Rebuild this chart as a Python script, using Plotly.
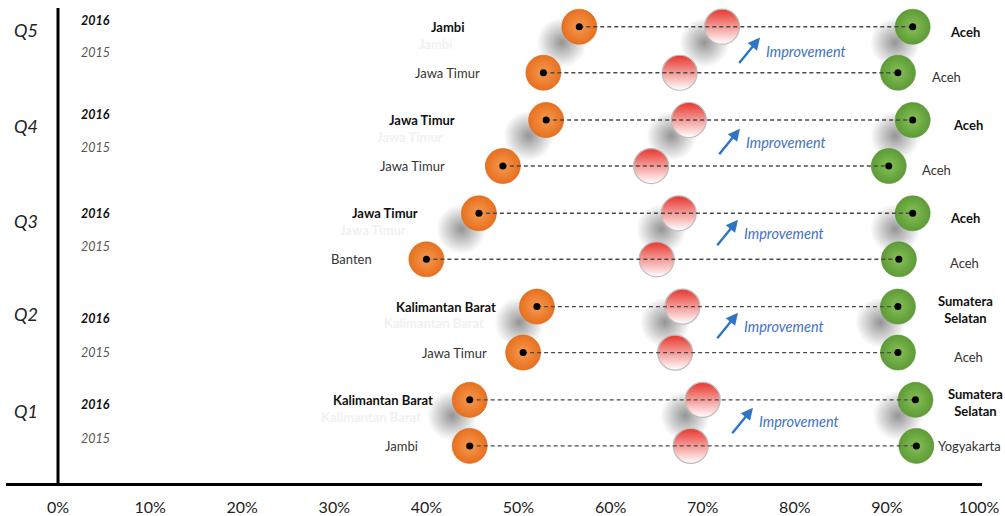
import plotly.graph_objects as go

# ---------------- data ----------------
quarters = ["Q5", "Q4", "Q3", "Q2", "Q1"]
min_2016 = [56.6, 53.0, 45.7, 52.0, 44.7]
avg_2016 = [72.1, 68.5, 67.4, 67.8, 70.0]
max_2016 = [92.8, 92.8, 92.8, 91.2, 93.1]
min_2015 = [52.7, 48.3, 40.0, 50.5, 44.7]
avg_2015 = [67.5, 64.4, 65.0, 67.0, 68.7]
max_2015 = [91.2, 90.2, 91.3, 91.2, 93.2]
min_prov_2016 = ["Jambi", "Jawa Timur", "Jawa Timur", "Kalimantan Barat", "Kalimantan Barat"]
min_prov_2015 = ["Jawa Timur", "Jawa Timur", "Banten", "Jawa Timur", "Jambi"]
max_prov_2016 = ["Aceh", "Aceh", "Aceh", "Sumatera<br>Selatan", "Sumatera<br>Selatan"]
max_prov_2015 = ["Aceh", "Aceh", "Aceh", "Aceh", "Yogyakarta"]
x_ticks = [0, 10, 20, 30, 40, 50, 60, 70, 80, 90, 100]
x_ticklabels = ["0%", "10%", "20%", "30%", "40%", "50%", "60%", "70%", "80%", "90%", "100%"]
year_labels = ["2016", "2015"]
improvement_label = "Improvement"

# ---------------- layout helpers ----------------
FONT = "Lato"
X0_PX, PX_PER_UNIT = 58.0, 9.21


def px2x(p):
    return (p - X0_PX) / PX_PER_UNIT


# vertical row positions (plot y units == screen pixels)
row_2016 = [27 + 94.25 * k for k in range(5)]
row_2015 = [y + 46.5 for y in row_2016]
q_label_y = [30, 127, 223, 317, 415]
yr16_y = [21, 116, 216, 322, 409]
yr15_y = [53, 149, 249, 356, 443]
left_off_2016 = [112, 89, 59, 39, 35]
left_off_2015 = [61, 56, 52, 34, 50]
right_off_2016 = [35, 38, 35, 68, 60]
right_off_2015 = [32, 31, 49, 54, 20]
imp_head_px = [(760, 38), (740, 130), (738, 222), (738, 316), (753, 412)]

ORANGE_C, ORANGE_E = "#F59A50", "#E8701F"
GREEN_C, GREEN_E = "#86C057", "#5E9B36"
RED = "#E8362E"
BLUE = "#2E75C6"

fig = go.Figure()

all_min = min_2016 + min_2015
all_avg = avg_2016 + avg_2015
all_max = max_2016 + max_2015
all_y = row_2016 + row_2015

# soft shadows for the 2016 rows (radial: gradient colour = centre)
sx, sy = [], []
for k in range(5):
    for v in (min_2016[k], avg_2016[k], max_2016[k]):
        sx.append(v - 1.9)
        sy.append(row_2016[k] + 16)
fig.add_trace(go.Scatter(
    x=sx, y=sy, mode="markers", hoverinfo="skip",
    marker=dict(size=50, color="rgba(0,0,0,0)", line=dict(width=0),
                gradient=dict(type="radial", color="rgba(0,0,0,0.42)"))))

# average (red/white) circles
fig.add_trace(go.Scatter(
    x=all_avg, y=all_y, mode="markers", hoverinfo="skip",
    marker=dict(size=35, color=RED, line=dict(width=1.2, color="#BDBDBD"),
                gradient=dict(type="vertical", color="#FFFFFF"))))
# minimum (orange)
fig.add_trace(go.Scatter(
    x=all_min, y=all_y, mode="markers", hoverinfo="skip",
    marker=dict(size=35, color=ORANGE_E, line=dict(width=0.6, color="#D8651A"),
                gradient=dict(type="radial", color=ORANGE_C))))
# maximum (green)
fig.add_trace(go.Scatter(
    x=all_max, y=all_y, mode="markers", hoverinfo="skip",
    marker=dict(size=35, color=GREEN_E, line=dict(width=0.6, color="#5A9632"),
                gradient=dict(type="radial", color=GREEN_C))))

# dashed connectors
for lo, hi, y in zip(all_min, all_max, all_y):
    fig.add_trace(go.Scatter(
        x=[lo, hi], y=[y, y], mode="lines", hoverinfo="skip",
        line=dict(color="#4A4A4A", width=1.4, dash="4px,3px")))

# black centre dots
fig.add_trace(go.Scatter(
    x=all_min + all_max, y=all_y + all_y, mode="markers", hoverinfo="skip",
    marker=dict(size=7, color="black")))

ann = []
# quarter + year labels
for k, q in enumerate(quarters):
    ann.append(dict(x=px2x(26), y=q_label_y[k], text="<i>%s</i>" % q, showarrow=False,
                    xanchor="center", yanchor="middle",
                    font=dict(family=FONT, size=18, color="#222")))
    ann.append(dict(x=px2x(79), y=yr16_y[k], text="<b><i>%s</i></b>" % year_labels[0],
                    showarrow=False, xanchor="left", yanchor="middle",
                    font=dict(family=FONT, size=12.5, color="#111")))
    ann.append(dict(x=px2x(79), y=yr15_y[k], text="<i>%s</i>" % year_labels[1],
                    showarrow=False, xanchor="left", yanchor="middle",
                    font=dict(family=FONT, size=12.5, color="#555")))

# province labels
for k in range(5):
    # 2016 left (bold) + faint reflection
    ann.append(dict(x=min_2016[k], y=row_2016[k] + 17, text="<b>%s</b>" % min_prov_2016[k],
                    showarrow=False, xanchor="right", yanchor="middle",
                    xshift=-left_off_2016[k] - 12,
                    font=dict(family=FONT, size=13, color="#F1F1F1")))
    ann.append(dict(x=min_2016[k], y=row_2016[k], text="<b>%s</b>" % min_prov_2016[k],
                    showarrow=False, xanchor="right", yanchor="middle",
                    xshift=-left_off_2016[k],
                    font=dict(family=FONT, size=13, color="#111")))
    ann.append(dict(x=min_2015[k], y=row_2015[k], text=min_prov_2015[k],
                    showarrow=False, xanchor="right", yanchor="middle",
                    xshift=-left_off_2015[k],
                    font=dict(family=FONT, size=13, color="#333")))
    multi = "<br>" in max_prov_2016[k]
    ann.append(dict(x=max_2016[k], y=row_2016[k] + (3 if multi else 5),
                    text="<b>%s</b>" % max_prov_2016[k],
                    showarrow=False, xanchor="center" if multi else "left", yanchor="middle",
                    xshift=right_off_2016[k], align="center",
                    font=dict(family=FONT, size=13, color="#111")))
    ann.append(dict(x=max_2015[k], y=row_2015[k] + (4 if k < 4 else 0), text=max_prov_2015[k],
                    showarrow=False, xanchor="left", yanchor="middle",
                    xshift=right_off_2015[k],
                    font=dict(family=FONT, size=13, color="#333")))
    # improvement arrows
    hx, hy = imp_head_px[k]
    ann.append(dict(x=px2x(hx), y=hy, ax=-22, ay=27, showarrow=True,
                    arrowhead=2, arrowsize=1, arrowwidth=2.4, arrowcolor=BLUE,
                    text=""))
    ann.append(dict(x=px2x(hx + 4), y=hy + 14, text="<i>%s</i>" % improvement_label,
                    showarrow=False, xanchor="left", yanchor="middle",
                    font=dict(family=FONT, size=14.5, color="#4472C4")))

fig.update_layout(
    width=1005, height=516,
    margin=dict(l=6, r=23, t=0, b=28),
    paper_bgcolor="white", plot_bgcolor="white",
    showlegend=False,
    annotations=ann,
    shapes=[dict(type="line", xref="x", yref="y", x0=0, x1=0, y0=8, y1=488,
                 line=dict(color="black", width=3), layer="above")],
    xaxis=dict(range=[px2x(6), px2x(982)], tickvals=x_ticks, ticktext=x_ticklabels,
               showline=True, linecolor="black", linewidth=3, showgrid=False,
               zeroline=False, ticks="", ticklabelstandoff=8,
               tickfont=dict(family=FONT, size=16, color="#222"), fixedrange=True),
    yaxis=dict(range=[488, 0], visible=False, showgrid=False, zeroline=False,
               fixedrange=True),
)

fig.write_html("out.html")
